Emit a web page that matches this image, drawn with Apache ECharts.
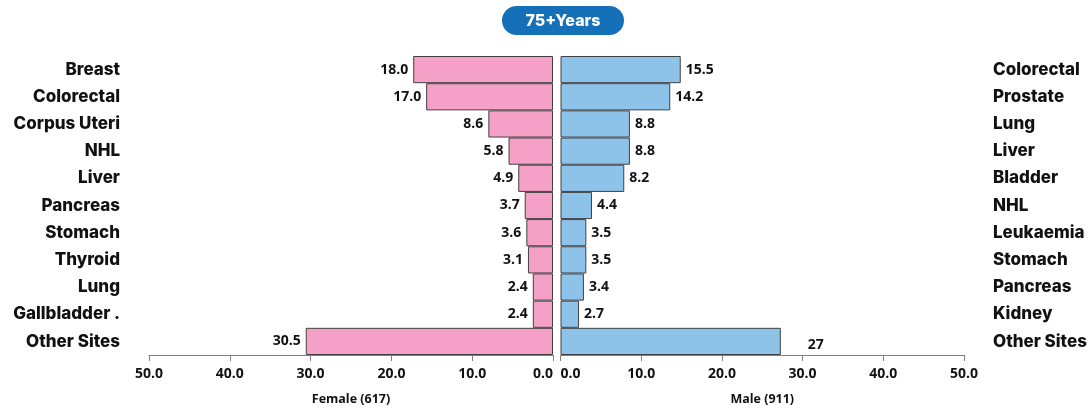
<!DOCTYPE html>
<html>
<head>
<meta charset="utf-8">
<script src="https://cdn.jsdelivr.net/npm/echarts@6/dist/echarts.min.js"></script>
<style>
  html, body { margin: 0; padding: 0; background: #fff; }
  #chart { width: 1091px; height: 411px; }
</style>
</head>
<body>
<div id="chart"></div>
<script>
// female side (top to bottom)
const femaleSites = ['Breast', 'Colorectal', 'Corpus Uteri', 'NHL', 'Liver', 'Pancreas', 'Stomach', 'Thyroid', 'Lung', 'Gallbladder .', 'Other Sites'];
const femaleBars = [17.3, 15.7, 8.0, 5.5, 4.3, 3.5, 3.3, 3.1, 2.5, 2.5, 30.6];
const femaleLabels = ['18.0', '17.0', '8.6', '5.8', '4.9', '3.7', '3.6', '3.1', '2.4', '2.4', '30.5'];

// male side
const maleSites = ['Colorectal', 'Prostate', 'Lung', 'Liver', 'Bladder', 'NHL', 'Leukaemia', 'Stomach', 'Pancreas', 'Kidney', 'Other Sites'];
const maleBars = [14.9, 13.6, 8.6, 8.6, 7.9, 3.9, 3.2, 3.2, 2.9, 2.3, 27.3];
const maleLabels = ['15.5', '14.2', '8.8', '8.8', '8.2', '4.4', '3.5', '3.5', '3.4', '2.7', '27'];

const ticks = [0, 10, 20, 30, 40, 50];

const pink = '#f4a0c7';
const blue = '#8ec3e9';
const edge = '#404040';
const numFont = { fontFamily: 'Open Sans', fontWeight: 'bold', fontSize: 14, color: '#111' };
const catFont = { fontFamily: 'Inter', fontWeight: 800, fontSize: 17, color: '#111' };

const myChart = echarts.init(document.getElementById('chart'));

function xAx(idx, inverse, name, minAlign) {
  return {
    type: 'value',
    gridIndex: idx,
    inverse: inverse,
    min: ticks[0],
    max: ticks[ticks.length - 1],
    interval: 10,
    name: name,
    nameLocation: 'middle',
    nameGap: 38,
    nameTextStyle: { fontFamily: 'Open Sans', fontWeight: 'bold', fontSize: 12.5, color: '#111' },
    splitLine: { show: false },
    axisLine: { show: true, lineStyle: { color: '#7f7f7f', width: 1 } },
    axisTick: { show: true, length: 6, lineStyle: { color: '#7f7f7f' } },
    axisLabel: Object.assign({ margin: 12, alignMinLabel: minAlign, formatter: (v) => v.toFixed(1) }, numFont)
  };
}

function yAx(idx, pos, data) {
  return {
    type: 'category',
    gridIndex: idx,
    position: pos,
    inverse: true,
    data: data,
    axisLine: { show: false, onZero: false },
    axisTick: { show: false },
    axisLabel: Object.assign({ margin: 29 }, catFont)
  };
}

const option = {
  animation: false,
  graphic: [
    {
      type: 'group',
      left: 502,
      top: 6,
      children: [
        { type: 'rect', shape: { x: 0, y: 0, width: 122, height: 29, r: 14.5 }, style: { fill: '#1670b9' } },
        {
          type: 'text', x: 61, y: 15,
          style: { text: '75+Years', fill: '#fff', font: '800 16px Inter', align: 'center', verticalAlign: 'middle' }
        }
      ]
    }
  ],
  grid: [
    { left: 149, width: 404, top: 56, height: 300 },
    { left: 560.5, width: 403.5, top: 56, height: 300 }
  ],
  xAxis: [xAx(0, true, 'Female (617)', 'right'), xAx(1, false, 'Male (911)', 'left')],
  yAxis: [yAx(0, 'left', femaleSites), yAx(1, 'right', maleSites)],
  series: [
    {
      type: 'bar',
      xAxisIndex: 0,
      yAxisIndex: 0,
      barCategoryGap: 0,
      itemStyle: { color: pink, borderColor: edge, borderWidth: 1 },
      label: Object.assign({ show: true, position: 'left', distance: 5 }, numFont),
      data: femaleBars.map((v, i) => ({
        value: v,
        label: { formatter: femaleLabels[i] }
      }))
    },
    {
      type: 'bar',
      xAxisIndex: 1,
      yAxisIndex: 1,
      barCategoryGap: 0,
      itemStyle: { color: blue, borderColor: edge, borderWidth: 1 },
      label: Object.assign({ show: true, position: 'right', distance: 5 }, numFont),
      data: maleBars.map((v, i) => ({
        value: v,
        label: i === maleBars.length - 1
          ? { formatter: maleLabels[i], distance: 27, offset: [0, 4] }
          : { formatter: maleLabels[i] }
      }))
    }
  ]
};

myChart.setOption(option);
</script>
</body>
</html>
